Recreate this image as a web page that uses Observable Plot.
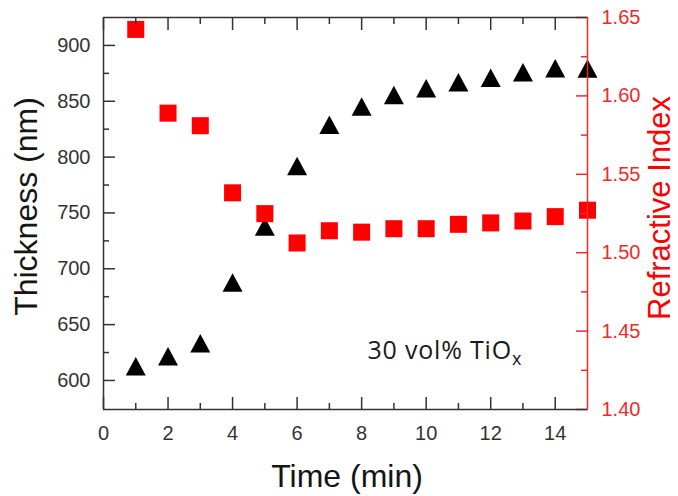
<!DOCTYPE html>
<html>
<head>
<meta charset="utf-8">
<script src="https://cdn.jsdelivr.net/npm/d3@7"></script>
<script src="https://cdn.jsdelivr.net/npm/@observablehq/plot@0.6"></script>
<style>
  html, body { margin: 0; padding: 0; background: #fff; }
  #chart { width: 678px; height: 496px; }
</style>
</head>
<body>
<div id="chart"></div>
<script>
// ---- data ----
const times = [1, 2, 3, 4, 5, 6, 7, 8, 9, 10, 11, 12, 13, 14, 15];
const thickness = [612.7, 621.7, 633.3, 687.8, 737.9, 792, 829, 845.4, 855.7, 861.7, 867, 871, 876, 879.6, 879.3];
const refractiveIndex = [1.6424, 1.589, 1.581, 1.5382, 1.5249, 1.5062, 1.514, 1.5131, 1.5153, 1.5153, 1.5181, 1.519, 1.5202, 1.523, 1.5271];

const xTicks = [0, 2, 4, 6, 8, 10, 12, 14];
const xMinorTicks = [1, 3, 5, 7, 9, 11, 13];
const thicknessTicks = [600, 650, 700, 750, 800, 850, 900];
const thicknessMinorTicks = [625, 675, 725, 775, 825, 875];
const indexTicks = [1.40, 1.45, 1.50, 1.55, 1.60, 1.65];
const indexMinorTicks = [1.425, 1.475, 1.525, 1.575, 1.625];

const xDomain = [0, 15];
const thicknessDomain = [574, 925];
const indexDomain = [1.40, 1.65];

const xTitle = "Time (min)";
const leftTitle = "Thickness (nm)";
const rightTitle = "Refractive Index";
const noteMain = "30 vol% TiO";
const noteSub = "x";

// ---- helpers ----
const toY = d3.scaleLinear(indexDomain, thicknessDomain);
const rows = times.map((t, i) => ({
  time: t,
  thickness: thickness[i],
  index: refractiveIndex[i],
  indexY: toY(refractiveIndex[i])
}));

const triangleUp = {
  draw(ctx, size) {
    const r = Math.sqrt(size / Math.PI);
    const hw = r * 1.35, hh = r * 1.25;
    ctx.moveTo(0, -hh);
    ctx.lineTo(hw, hh);
    ctx.lineTo(-hw, hh);
    ctx.closePath();
  }
};

const axisGray = "#333333";
const red = "#ff0000";
const axisRed = "#ee2a2a";
const font = "'Liberation Sans', Arial, sans-serif";

const chart = Plot.plot({
  width: 678,
  height: 496,
  marginLeft: 103,
  marginRight: 91,
  marginTop: 17,
  marginBottom: 87,
  x: { domain: xDomain },
  y: { domain: thicknessDomain },
  style: { fontFamily: font, background: "#fff", overflow: "visible" },
  marks: [
    Plot.dot(rows, { x: "time", y: "thickness", symbol: triangleUp, r: 7.4, fill: "#000", stroke: "none" }),
    Plot.dot(rows, { x: "time", y: "indexY", symbol: "square", r: 9.6, fill: red, stroke: "none" }),

    // bottom axis
    Plot.axisX(xTicks, { anchor: "bottom", tickSize: 0, tickPadding: 16, fontSize: 20, color: axisGray, label: null }),
    Plot.axisX(xTicks, { anchor: "bottom", tickSize: -12, fill: "none", stroke: axisGray, strokeWidth: 1.5, label: null }),
    Plot.axisX(xMinorTicks, { anchor: "bottom", tickSize: -6, fill: "none", stroke: axisGray, strokeWidth: 1.5, label: null }),
    // top axis
    Plot.axisX(xTicks, { anchor: "top", tickSize: -12, fill: "none", stroke: axisGray, strokeWidth: 1.5, label: null }),
    Plot.axisX(xMinorTicks, { anchor: "top", tickSize: -6, fill: "none", stroke: axisGray, strokeWidth: 1.5, label: null }),
    // left axis
    Plot.axisY(thicknessTicks, { anchor: "left", tickSize: 0, tickPadding: 13, fontSize: 20, color: axisGray, label: null }),
    Plot.axisY(thicknessTicks, { anchor: "left", tickSize: -12, fill: "none", stroke: axisGray, strokeWidth: 1.5, label: null }),
    Plot.axisY(thicknessMinorTicks, { anchor: "left", tickSize: -6, fill: "none", stroke: axisGray, strokeWidth: 1.5, label: null }),
    // right axis (refractive index, mapped onto the same y scale)
    Plot.axisY(indexTicks.map(toY), { anchor: "right", tickSize: 0, tickPadding: 14, fontSize: 20, color: axisRed, label: null,
      tickFormat: (d) => toY.invert(d).toFixed(2) }),
    Plot.axisY(indexTicks.map(toY), { anchor: "right", tickSize: -12, fill: "none", stroke: axisRed, strokeWidth: 1.5, label: null }),
    Plot.axisY(indexMinorTicks.map(toY), { anchor: "right", tickSize: -7, fill: "none", stroke: axisRed, strokeWidth: 1.5, label: null }),

    // frame lines
    Plot.ruleY([thicknessDomain[1]], { stroke: axisGray, strokeWidth: 1.5 }),
    Plot.ruleY([thicknessDomain[0]], { stroke: axisGray, strokeWidth: 1.5 }),
    Plot.ruleX([xDomain[0]], { stroke: axisGray, strokeWidth: 1.5 }),
    Plot.ruleX([xDomain[1]], { stroke: axisRed, strokeWidth: 1.5 }),

    // titles
    Plot.text([leftTitle], { frameAnchor: "left", textAnchor: "middle", lineAnchor: "middle", rotate: -90, dx: -77, dy: -7, fontSize: 32, fill: "#151515" }),
    Plot.text([rightTitle], { frameAnchor: "right", textAnchor: "middle", lineAnchor: "middle", rotate: -90, dx: 73, dy: -5.5, fontSize: 31, fill: red }),
    Plot.text([xTitle], { frameAnchor: "bottom", textAnchor: "middle", lineAnchor: "middle", dx: 1.5, dy: 67, fontSize: 32, fill: "#151515" }),

    // annotation
    Plot.text([noteMain], { frameAnchor: "bottom-left", textAnchor: "start", lineAnchor: "middle", dx: 264, dy: -58.5, fontSize: 25, fontFamily: "'Open Sans', Lato, sans-serif", fill: "#1a1a1a" })
  ]
});

document.getElementById("chart").appendChild(chart);

// subscript x in the annotation, letter spacing as in the reference
d3.select(chart).selectAll("text")
  .filter(function () { return this.textContent === noteMain; })
  .attr("letter-spacing", "0.8px")
  .each(function () {
    d3.select(this).append("tspan")
      .attr("dy", "0.35em")
      .attr("font-size", "0.72em")
      .text(noteSub);
  });
</script>
</body>
</html>
